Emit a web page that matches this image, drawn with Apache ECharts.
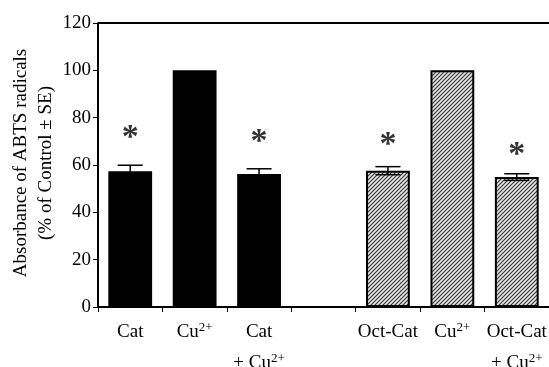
<!DOCTYPE html>
<html><head><meta charset="utf-8">
<script src="https://cdn.jsdelivr.net/npm/echarts@6/dist/echarts.min.js"></script>
<style>html,body{margin:0;padding:0;background:#fff}#c{width:549px;height:367px}</style>
</head><body><div id="c"></div>
<script>
var categories = ['Cat', 'Cu2+', 'Cat\n+ Cu2+', '', 'Oct-Cat', 'Cu2+', 'Oct-Cat\n+ Cu2+'];
var means = [57.4, 100, 56.2, null, 57.6, 100, 54.9];
var errors = [2.5, 0, 2.2, null, 1.7, 0, 1.4];
var hatched = [false, false, false, false, true, true, true];
var stars = [71.5, null, 69.8, null, 68.5, null, 64.2];
var yTicks = [0, 20, 40, 60, 80, 100, 120];

var FONT = '"Liberation Serif", "Times New Roman", serif';

var pc = document.createElement('canvas');
pc.width = 4; pc.height = 4;
var px = pc.getContext('2d');
px.fillStyle = '#e6e6e6'; px.fillRect(0, 0, 4, 4);
px.strokeStyle = '#333'; px.lineWidth = 1.1;
px.beginPath();
px.moveTo(-1, 5); px.lineTo(5, -1);
px.moveTo(-1, 1); px.lineTo(1, -1);
px.moveTo(3, 5); px.lineTo(5, 3);
px.stroke();

var barData = means.map(function (v, i) {
  if (v == null) return null;
  if (hatched[i]) {
    return { value: v, itemStyle: { color: { image: pc, repeat: 'repeat' }, borderColor: '#000', borderWidth: 2 } };
  }
  return { value: v, itemStyle: { color: '#000' } };
});

var errData = means.map(function (v, i) {
  return v == null ? [i, null, null] : [i, v - errors[i], v + errors[i]];
});

var starData = stars.map(function (v, i) { return [i, v]; });

function fmtCat(v) {
  return v.replace(/Cu2\+/g, 'Cu{sup|2+}');
}

var chart = echarts.init(document.getElementById('c'), null, { renderer: 'canvas' });
chart.setOption({
  animation: false,
  backgroundColor: '#fff',
  grid: { left: 98, right: 0, top: 23, bottom: 60, containLabel: false, outerBoundsMode: 'none' },
  xAxis: {
    type: 'category',
    data: categories,
    axisLine: { lineStyle: { color: '#000', width: 2 } },
    axisTick: { show: true, length: 5, lineStyle: { color: '#000', width: 1 } },
    axisLabel: {
      color: '#000', fontFamily: FONT, fontSize: 19, margin: 10, lineHeight: 31,
      interval: 0,
      formatter: fmtCat,
      rich: {
        sup: { fontFamily: FONT, fontSize: 13, color: '#000', padding: [0, 0, 10, 0] }
      }
    },
    splitLine: { show: false }
  },
  yAxis: {
    type: 'value', min: 0, max: 120, interval: 20,
    axisLine: { show: true, lineStyle: { color: '#000', width: 2 } },
    axisTick: { show: true, length: 5, lineStyle: { color: '#000', width: 1 } },
    axisLabel: { color: '#000', fontFamily: FONT, fontSize: 19, margin: 7,
      formatter: function (v) { return yTicks.indexOf(v) >= 0 ? String(v) : ''; } },
    splitLine: { show: false }
  },
  graphic: [
    { type: 'line', shape: { x1: 98, y1: 23, x2: 549, y2: 23 }, style: { stroke: '#000', lineWidth: 2 } },
    { type: 'text', x: 34, y: 163, rotation: Math.PI / 2,
      style: { text: 'Absorbance of ABTS radicals\n(% of Control ± SE)', fontFamily: FONT, fontSize: 19,
        lineHeight: 25, fill: '#000', align: 'center', verticalAlign: 'middle' } }
  ],
  series: [
    { type: 'bar', data: barData, barWidth: '68%', z: 2 },
    {
      type: 'custom', z: 3,
      data: errData,
      renderItem: function (params, api) {
        var lo = api.value(1), hi = api.value(2);
        if (lo == null || hi == null || isNaN(lo) || lo === hi) return null;
        var x = api.value(0);
        var p1 = api.coord([x, lo]), p2 = api.coord([x, hi]);
        var hw = 12.5;
        var st = { stroke: '#000', lineWidth: 1.5 };
        return {
          type: 'group', children: [
            { type: 'line', shape: { x1: p1[0], y1: p1[1], x2: p2[0], y2: p2[1] }, style: st },
            { type: 'line', shape: { x1: p2[0] - hw, y1: p2[1], x2: p2[0] + hw, y2: p2[1] }, style: st },
            { type: 'line', shape: { x1: p1[0] - hw, y1: p1[1], x2: p1[0] + hw, y2: p1[1] }, style: st }
          ]
        };
      }
    },
    {
      type: 'scatter', z: 4, data: starData, symbolSize: 1,
      itemStyle: { color: 'rgba(0,0,0,0)' },
      label: { show: true, position: 'inside', formatter: '*', color: '#000',
        fontFamily: FONT, fontSize: 34, fontWeight: 'bold' }
    }
  ]
});
</script></body></html>
